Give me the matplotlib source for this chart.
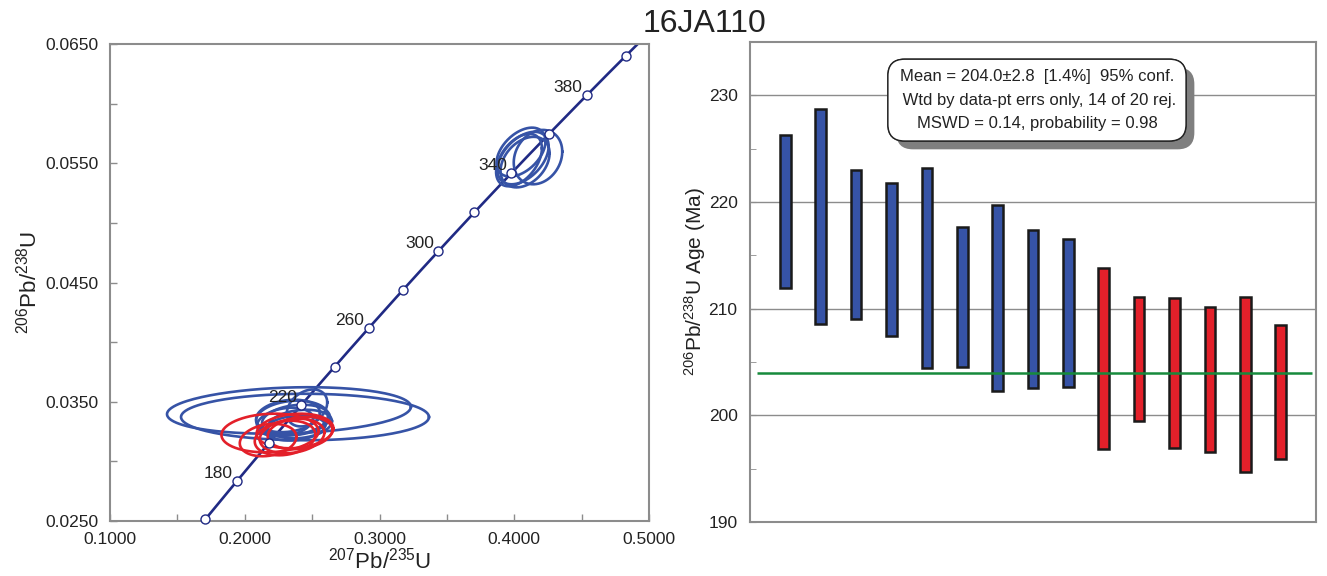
import numpy as np
import matplotlib
matplotlib.use("Agg")
import matplotlib.pyplot as plt
from matplotlib import patheffects
from matplotlib.ticker import MultipleLocator, FormatStrFormatter

plt.rcParams['font.family'] = ['Liberation Sans', 'DejaVu Sans']
plt.rcParams['mathtext.default'] = 'regular'

# ---- data ----------------------------------------------------------------
sample = "16JA110"

# concordia marker ages (Ma) and which of them get a label
marker_ages = [160, 180, 200, 220, 240, 260, 280, 300, 320, 340, 360, 380, 400]
label_ages = [180, 220, 260, 300, 340, 380]

# ellipses: 207Pb/235U, 206Pb/238U, x half-width, y half-height, rho
blue_x = [0.4176, 0.4050, 0.4065, 0.4080, 0.4035,
          0.2328, 0.2447,
          0.2462, 0.2321, 0.2380, 0.2299, 0.2410, 0.2351, 0.2373]
blue_y = [0.05552, 0.05594, 0.05544, 0.05510, 0.05527,
          0.03427, 0.03372,
          0.03448, 0.03381, 0.03347, 0.03330, 0.03313, 0.03364, 0.03280]
blue_sx = [0.0180, 0.0182, 0.0190, 0.0182, 0.0170,
           0.0905, 0.0920,
           0.0150, 0.0237, 0.0252, 0.0208, 0.0237, 0.0267, 0.0223]
blue_sy = [0.00228, 0.00205, 0.00220, 0.00212, 0.00220,
           0.00195, 0.00195,
           0.00155, 0.00136, 0.00128, 0.00120, 0.00120, 0.00145, 0.00105]
blue_rho = [0.2, 0.45, 0.45, 0.35, 0.45,
            0.16, 0.0,
            0.3, 0.2, 0.2, 0.25, 0.2, 0.15, 0.2]

red_x = [0.2187, 0.2173, 0.2299, 0.2351, 0.2410, 0.2373]
red_y = [0.03238, 0.03179, 0.03196, 0.03213, 0.03238, 0.03255]
red_sx = [0.0360, 0.0210, 0.0225, 0.0240, 0.0240, 0.0285]
red_sy = [0.00162, 0.00136, 0.00145, 0.00145, 0.00136, 0.00145]
red_rho = [0.1, 0.2, 0.2, 0.2, 0.2, 0.15]

# weighted-mean panel: 206Pb/238U ages, bar low / high (Ma)
kept_lo = [211.9, 208.6, 209.0, 207.4, 204.4, 204.5, 202.3, 202.6, 202.7]
kept_hi = [226.3, 228.7, 223.0, 221.8, 223.2, 217.7, 219.7, 217.4, 216.5]
rej_lo = [196.8, 199.5, 196.9, 196.6, 194.7, 195.9]
rej_hi = [213.8, 211.1, 211.0, 210.2, 211.1, 208.5]
mean_age = 204.0
box_text = ("Mean = 204.0\u00b12.8  [1.4%]  95% conf.\n"
            " Wtd by data-pt errs only, 14 of 20 rej.\n"
            "MSWD = 0.14, probability = 0.98")

# decay constants (1/yr)
l238 = 1.55125e-10
l235 = 9.8485e-10

BLUE = '#3653a6'
RED = '#e3202a'
NAVY = '#202a84'
GRAY = '#8c8c8c'
TXT = '#222222'


def concordia(t_ma):
    t = np.asarray(t_ma, dtype=float) * 1e6
    return np.exp(l235 * t) - 1, np.exp(l238 * t) - 1


def ellipse(ax, cx, cy, sx, sy, rho, color):
    t = np.linspace(0, 2 * np.pi, 200)
    x = cx + sx * np.cos(t)
    y = cy + sy * (rho * np.cos(t) + np.sqrt(1 - rho ** 2) * np.sin(t))
    ax.plot(x, y, color=color, lw=1.9, zorder=3)


fig = plt.figure(figsize=(13.27, 5.76), dpi=100)

#%% concordia panel
ax1 = fig.add_axes([0.0829, 0.0955, 0.4062, 0.828])
cx, cy = concordia(np.linspace(marker_ages[0], 412, 300))
ax1.plot(cx, cy, color=NAVY, lw=1.9, zorder=2)

for i in range(len(blue_x)):
    ellipse(ax1, blue_x[i], blue_y[i], blue_sx[i], blue_sy[i], blue_rho[i], BLUE)
for i in range(len(red_x)):
    ellipse(ax1, red_x[i], red_y[i], red_sx[i], red_sy[i], red_rho[i], RED)

mx, my = concordia(marker_ages)
ax1.plot(mx, my, 'o', ms=6.5, mfc='white', mec=NAVY, mew=1.0, zorder=5,
         clip_on=False)
for a in label_ages:
    px, py = concordia(a)
    ax1.annotate(str(a), (px, py), xytext=(-3, 0), textcoords='offset points',
                 ha='right', va='bottom', fontsize=12.5, color=TXT, zorder=4)

ax1.set_xlim(0.1, 0.5)
ax1.set_ylim(0.025, 0.065)
ax1.xaxis.set_major_locator(MultipleLocator(0.1))
ax1.xaxis.set_minor_locator(MultipleLocator(0.05))
ax1.set_yticks([0.025, 0.035, 0.045, 0.055, 0.065])
ax1.set_yticks([0.03, 0.04, 0.05, 0.06], minor=True)
ax1.xaxis.set_major_formatter(FormatStrFormatter('%.4f'))
ax1.yaxis.set_major_formatter(FormatStrFormatter('%.4f'))
ax1.tick_params(which='both', direction='in', length=5, width=1, color=GRAY,
                labelsize=12.5, labelcolor=TXT, pad=8)
for s in ax1.spines.values():
    s.set_color(GRAY)
    s.set_linewidth(1.5)
ax1.set_xlabel('$^{207}$Pb/$^{235}$U', fontsize=16, labelpad=0, color=TXT)
ax1.set_ylabel('$^{206}$Pb/$^{238}$U', fontsize=16, labelpad=3, color=TXT)

#%% weighted mean panel
ax2 = fig.add_axes([0.5652, 0.09375, 0.4265, 0.8333])
nk = len(kept_lo)
xk = np.arange(1, nk + 1)
xr = np.arange(nk + 1, nk + len(rej_lo) + 1)
ax2.bar(xk, np.array(kept_hi) - np.array(kept_lo), bottom=kept_lo, width=0.3,
        color=BLUE, edgecolor='#1a1a1a', linewidth=1.8, zorder=3)
ax2.bar(xr, np.array(rej_hi) - np.array(rej_lo), bottom=rej_lo, width=0.3,
        color=RED, edgecolor='#1a1a1a', linewidth=1.8, zorder=3)
ax2.hlines(mean_age, 0.2, 15.9, color='#178a3c', lw=1.8, zorder=4)

ax2.set_xlim(0, 16)
ax2.set_ylim(190, 235)
ax2.set_xticks([])
ax2.yaxis.set_major_locator(MultipleLocator(10))
ax2.yaxis.set_minor_locator(MultipleLocator(5))
ax2.grid(axis='y', which='major', color=GRAY, lw=1.0, zorder=0)
ax2.tick_params(which='both', direction='in', length=4, color=GRAY,
                labelsize=12.5, labelcolor=TXT, pad=9)
for s in ax2.spines.values():
    s.set_color(GRAY)
    s.set_linewidth(1.5)
ax2.set_ylabel('$^{206}$Pb/$^{238}$U Age (Ma)', fontsize=15, labelpad=0,
               color=TXT)

t = ax2.text(0.507, 0.879, box_text, transform=ax2.transAxes, ha='center',
             va='center', multialignment='center', fontsize=12,
             linespacing=1.7, zorder=6, color=TXT,
             bbox=dict(boxstyle='round,pad=0.6,rounding_size=1.0',
                       fc='white', ec='#222222', lw=1.0))
t.get_bbox_patch().set_path_effects([
    patheffects.withSimplePatchShadow(offset=(6, -6), shadow_rgbFace='#7f7f7f',
                                      alpha=1.0),
    patheffects.Normal()])

fig.text(0.531, 0.958, sample, ha='center', va='center', fontsize=23,
         color=TXT)

fig.savefig('out.png', dpi=100)
